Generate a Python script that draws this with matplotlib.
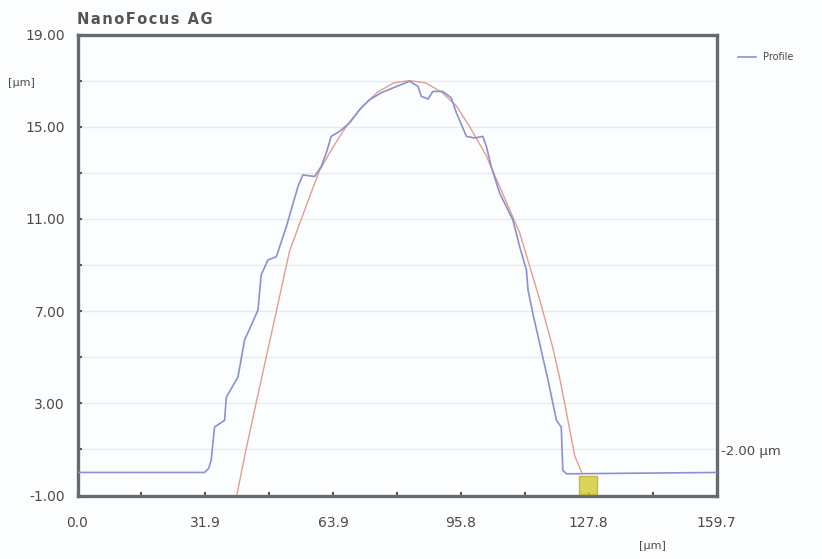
import matplotlib
matplotlib.use("Agg")
import matplotlib.pyplot as plt
import numpy as np

# measured profile (blue), x in um, height in um
profile_x = [0.0, 31.75, 32.75, 33.4, 34.25, 36.75, 37.2, 40.1, 41.75, 45.1, 45.9,
             47.6, 49.7, 52.2, 55.1, 56.3, 59.25, 60.9, 62.2, 63.4, 65.5, 68.0,
             70.5, 73.0, 75.9, 78.8, 83.0, 85.1, 85.9, 87.6, 88.8, 91.3, 93.4,
             94.7, 97.2, 99.25, 101.3, 102.2, 103.4, 105.5, 108.8, 110.5, 112.2,
             112.6, 113.8, 115.5, 117.6, 119.7, 120.9, 121.3, 122.2, 159.7]
profile_y = [0.0, 0.0, 0.17, 0.52, 1.97, 2.26, 3.27, 4.14, 5.74, 7.04, 8.57,
             9.22, 9.36, 10.67, 12.40, 12.91, 12.84, 13.27, 13.87, 14.58, 14.80, 15.16,
             15.74, 16.17, 16.47, 16.68, 16.97, 16.75, 16.32, 16.20, 16.53, 16.53, 16.25,
             15.60, 14.58, 14.51, 14.58, 14.14, 13.27, 12.12, 10.96, 9.80, 8.78,
             7.91, 6.90, 5.60, 4.00, 2.26, 1.97, 0.09, -0.06, 0.0]

# fitted curve (red)
fit_x = [39.8, 42.0, 45.0, 49.7, 53.0, 57.0, 60.5, 63.8, 67.5, 71.3, 75.0, 79.0,
         83.0, 87.0, 91.0, 94.7, 98.0, 102.0, 105.5, 110.5, 115.5, 118.8, 120.5,
         122.2, 124.3, 126.0]
fit_y = [-1.0, 0.9, 3.3, 7.0, 9.6, 11.5, 13.1, 14.1, 15.1, 15.9, 16.5, 16.9,
         17.0, 16.9, 16.5, 15.9, 15.0, 13.8, 12.4, 10.4, 7.5, 5.4, 4.1,
         2.6, 0.7, 0.0]

marker_x, marker_y = 127.5, -0.55

x_major = [0.0, 31.94, 63.88, 95.82, 127.76, 159.7]
x_labels = ["0.0", "31.9", "63.9", "95.8", "127.8", "159.7"]
y_major = [-1, 3, 7, 11, 15, 19]
y_labels = ["-1.00", "3.00", "7.00", "11.00", "15.00", "19.00"]

txt = "#4a4a4a"
frame = "#666a6c"

fig = plt.figure(figsize=(8.22, 5.59), dpi=100)
fig.patch.set_facecolor("#fcfdfe")
ax = fig.add_axes([77.5 / 822, 1 - 495.5 / 559, 639 / 822, 461 / 559])
ax.set_facecolor("#fcfdfe")

ax.plot(profile_x, profile_y, color="#8a90d4", lw=1.2, label="Profile", zorder=3)
ax.plot(fit_x, fit_y, color="#e0a08c", lw=1.0, zorder=2)
ax.plot([marker_x], [marker_y], marker="s", ms=13, color="#d6cf3a",
        mec="#b8b030", alpha=0.85, zorder=4, clip_on=False)

ax.set_xlim(0, 159.7)
ax.set_ylim(-1, 19)

ax.set_xticks(x_major)
ax.set_xticklabels(x_labels)
ax.set_xticks(np.arange(1, 10, 2) * 15.97, minor=True)
ax.set_yticks(y_major)
ax.set_yticklabels(y_labels)
ax.set_yticks([1, 5, 9, 13, 17], minor=True)

ax.grid(axis="y", which="both", color="#e8ebee", lw=1.0)
ax.tick_params(axis="both", which="both", direction="in", length=3, width=1.5,
               color="#555555", labelsize=10, labelcolor=txt)
ax.tick_params(axis="x", pad=15)
ax.tick_params(axis="y", pad=9)

for s in ax.spines.values():
    s.set_color(frame)
    s.set_linewidth(2.4)

title = "\u200a".join("NanoFocus AG")
fig.text(77 / 822, 1 - 20 / 559, title, fontsize=10.5, fontweight="semibold",
         color="#555555", va="center", ha="left")
fig.text(8 / 822, 1 - 83 / 559, "[µm]", fontsize=8, color=txt, va="center")
fig.text(652 / 822, 1 - 546 / 559, "[µm]", fontsize=8, color=txt,
         va="center", ha="center")
fig.text(721 / 822, 1 - 452 / 559, "-2.00 µm", fontsize=9.5, color=txt,
         va="center", ha="left")

ax.legend(loc="upper left", bbox_to_anchor=(1.02, 0.98), frameon=False,
          fontsize=7, handlelength=1.8, labelcolor=txt)

fig.savefig("out.png", dpi=100, facecolor=fig.get_facecolor())
